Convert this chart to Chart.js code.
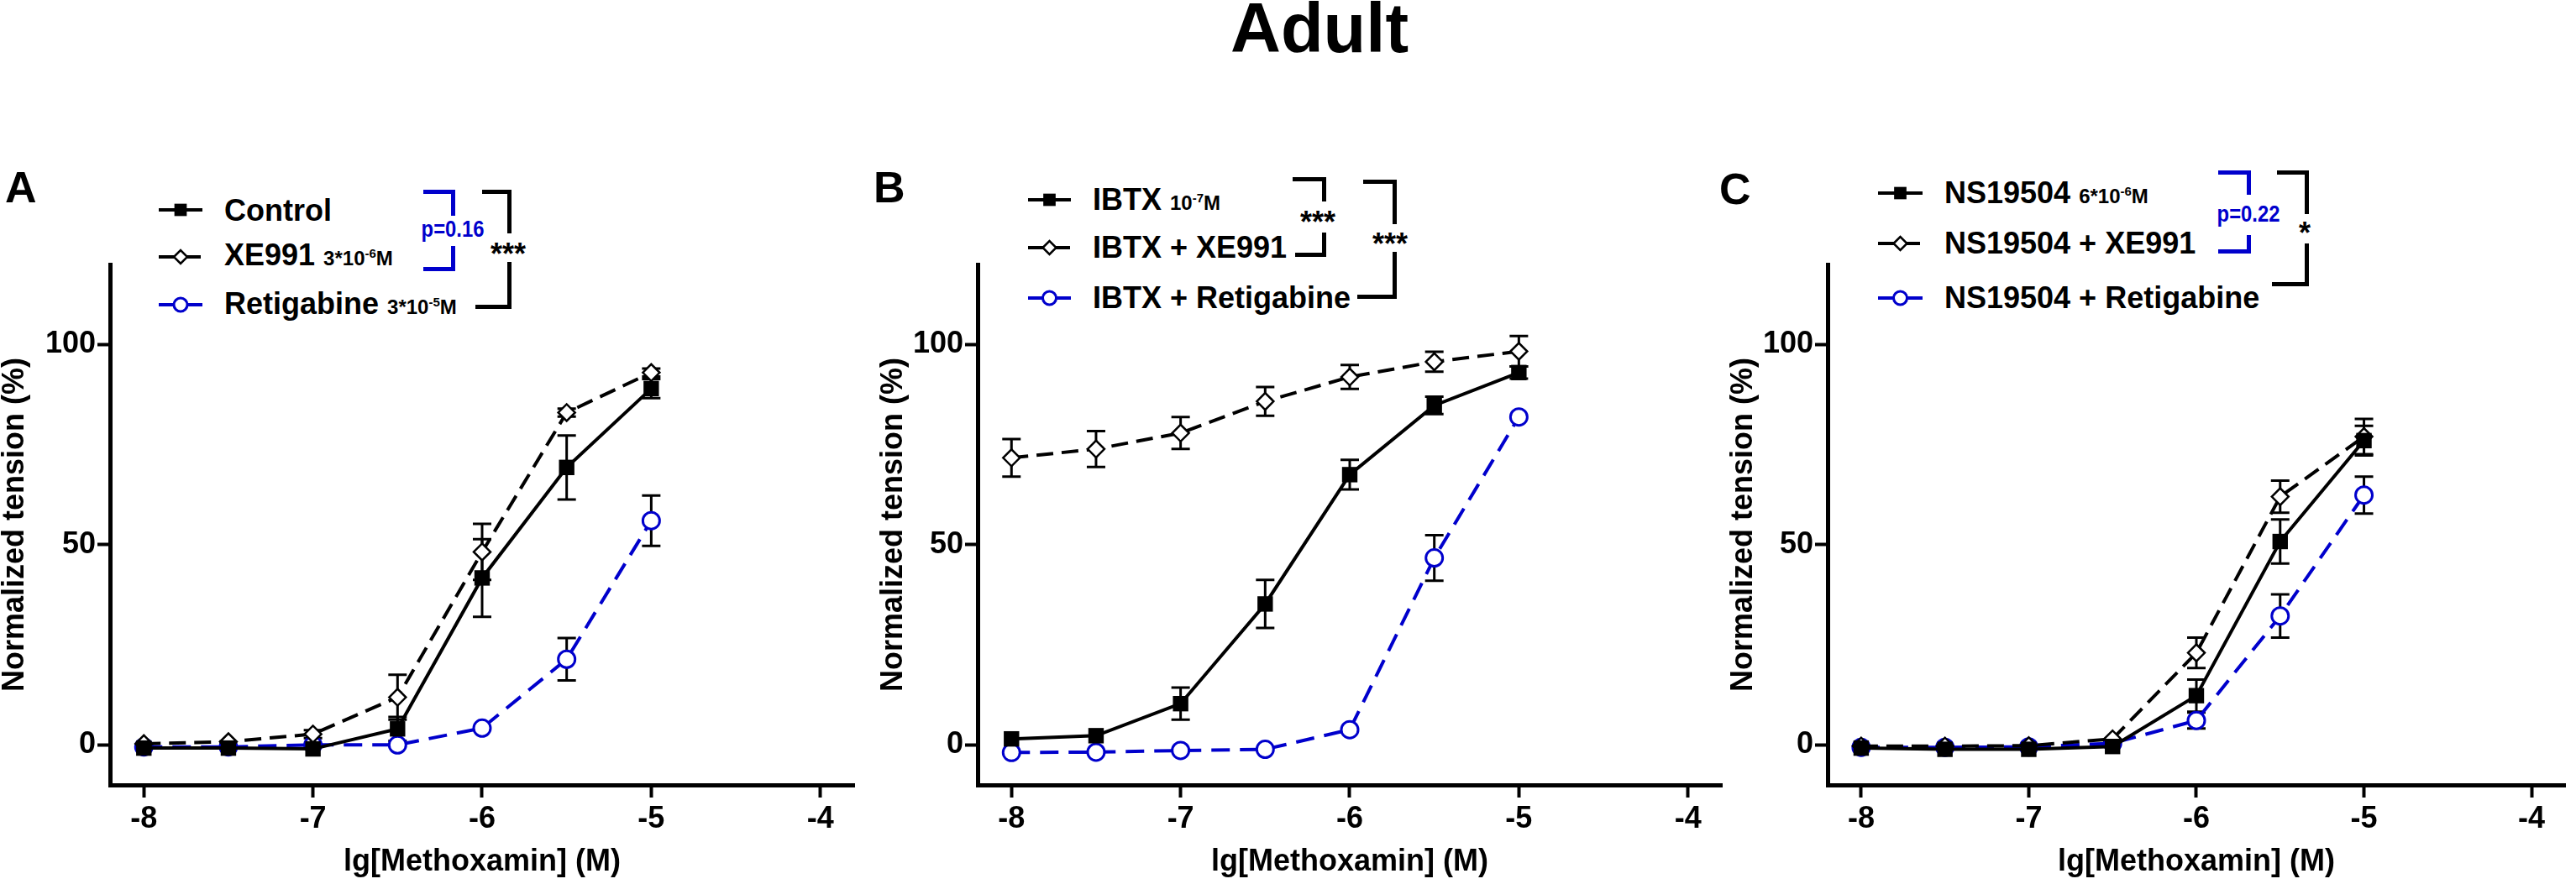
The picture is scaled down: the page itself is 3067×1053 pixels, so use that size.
<!DOCTYPE html>
<html>
<head>
<meta charset="utf-8">
<script src="https://cdn.jsdelivr.net/npm/chart.js@4.4.0/dist/chart.umd.min.js"></script>
<style>
  html, body { margin: 0; padding: 0; background: #fff; overflow: hidden; }
  body { width: 3067px; height: 1053px; position: relative; font-family: "Liberation Sans", Arial, sans-serif; font-weight: bold; color: #000; }
  .panel { position: absolute; top: 0; height: 1053px; }
  .t { position: absolute; white-space: nowrap; line-height: 1; transform: translateY(-50%); }
  .lg { font-size: 36px; }
  .lg small { font-size: 24px; }
  .lg sup { font-size: 15px; vertical-align: 9px; line-height: 0; }
  .pv { font-size: 28px; color: #0000cc; transform: translate(-50%, -50%) scaleX(0.85); }
  .st { font-size: 36px; transform: translateX(-50%); }
  .br { position: absolute; box-sizing: border-box; border: 0 solid #000; }
</style>
</head>
<body>
<div class="t" style="left:1571px;top:33px;font-size:83px;transform:translate(-50%,-50%)">Adult</div>
<div class="t" style="left:6px;top:223px;font-size:52px">A</div>
<div class="t" style="left:1040px;top:223px;font-size:52px">B</div>
<div class="t" style="left:2047px;top:225px;font-size:52px">C</div>

<div class="t lg" style="left:267px;top:251px">Control</div>
<div class="t lg" style="left:267px;top:304px">XE991 <small>3*10<sup>-6</sup>M</small></div>
<div class="t lg" style="left:267px;top:362px">Retigabine <small>3*10<sup>-5</sup>M</small></div>

<div class="t lg" style="left:1301px;top:238px">IBTX <small>10<sup>-7</sup>M</small></div>
<div class="t lg" style="left:1301px;top:295px">IBTX + XE991</div>
<div class="t lg" style="left:1301px;top:355px">IBTX + Retigabine</div>

<div class="t lg" style="left:2315px;top:230px">NS19504 <small>6*10<sup>-6</sup>M</small></div>
<div class="t lg" style="left:2315px;top:290px">NS19504 + XE991</div>
<div class="t lg" style="left:2315px;top:355px">NS19504 + Retigabine</div>

<div class="t pv" style="left:539px;top:273px">p=0.16</div>
<div class="t st" style="left:605px;top:285px">***</div>
<div class="t st" style="left:1569px;top:247px">***</div>
<div class="t st" style="left:1655px;top:273px">***</div>
<div class="t pv" style="left:2677px;top:255px">p=0.22</div>
<div class="t st" style="left:2744px;top:260px">*</div>

<div class="panel" id="pA" style="left:0px;width:1030px"><canvas id="cA"></canvas></div>
<div class="panel" id="pB" style="left:1033px;width:1030px"><canvas id="cB"></canvas></div>
<div class="panel" id="pC" style="left:2045px;width:1022px"><canvas id="cC"></canvas></div>

<script>
// concentrations, lg[M]
const doses = [-8, -7.5, -7, -6.5, -6, -5.5, -5];
const xTicks = [-8, -7, -6, -5, -4];
const yTicks = [0, 50, 100];

// Panel A (mean / SEM, % tension)
const aControl    = [-0.8, -0.8, -1.0, 4.0, 41.7, 69.3, 89.0];
const aControlErr = [0.5, 0.5, 0.5, 3.0, 9.7, 8.0, 2.4];
const aXe991      = [0.3, 0.8, 2.7, 11.9, 48.2, 83.0, 93.0];
const aXe991Err   = [0.5, 0.5, 1.0, 5.6, 7.0, 1.0, 1.0];
const aRetig      = [-0.5, -0.5, 0.0, 0.0, 4.2, 21.4, 56.0];
const aRetigErr   = [0, 0, 0, 0, 0.5, 5.3, 6.3];

// Panel B
const bIbtx       = [1.5, 2.3, 10.3, 35.2, 67.5, 84.8, 93.0];
const bIbtxErr    = [0.5, 0.5, 4.0, 6.0, 3.7, 2.2, 1.5];
const bXe991      = [71.7, 73.9, 77.9, 85.8, 91.9, 95.7, 98.3];
const bXe991Err   = [4.7, 4.5, 4.0, 3.6, 3.0, 2.5, 3.8];
const bRetig      = [-1.9, -1.8, -1.4, -1.1, 3.8, 46.7, 81.9];
const bRetigErr   = [0, 0, 0, 0, 0, 5.7, 0.8];

// Panel C
const cNs         = [-0.8, -1.1, -1.1, -0.4, 12.3, 50.8, 76.0];
const cNsErr      = [0.5, 0.5, 0.5, 0.5, 4.0, 5.5, 3.7];
const cXe991      = [-0.3, -0.3, -0.2, 1.5, 23.0, 62.0, 77.0];
const cXe991Err   = [0.5, 0.5, 0.5, 0.5, 3.8, 4.0, 4.4];
const cRetig      = [-0.6, -0.6, -0.5, 0.4, 6.1, 32.2, 62.4];
const cRetigErr   = [0.5, 0.5, 0.5, 0.5, 2.0, 5.4, 4.6];

const FONT = '"Liberation Sans", Arial, sans-serif';
const BLUE = '#0000cc';

// brackets: [x1 top, x2, yTop, yBreak1, x1 bottom, yBreak2, yBottom, colour]
const brackets = [
  [504, 539, 228, 257, 504, 293, 320, BLUE],
  [574, 606, 228, 278, 566, 312, 365, '#000'],
  [1539, 1576, 213, 240, 1542, 277, 303, '#000'],
  [1623, 1660, 216, 267, 1616, 300, 353, '#000'],
  [2641, 2677, 205, 232, 2641, 280, 299, BLUE],
  [2711, 2746, 205, 255, 2705, 290, 338, '#000']
];
brackets.forEach(b => {
  const [x1, x2, yt, y1, x1b, y2, yb, col] = b;
  const up = document.createElement('div');
  up.className = 'br';
  up.style.cssText = `left:${x1}px;top:${yt - 2.5}px;width:${x2 - x1 + 2.5}px;height:${y1 - yt + 2.5}px;border-top-width:5px;border-right-width:5px;border-color:${col}`;
  const lo = document.createElement('div');
  lo.className = 'br';
  lo.style.cssText = `left:${x1b}px;top:${y2}px;width:${x2 - x1b + 2.5}px;height:${yb - y2 + 2.5}px;border-bottom-width:5px;border-right-width:5px;border-color:${col}`;
  document.body.appendChild(up);
  document.body.appendChild(lo);
});

function pts(ys) { return doses.map((d, i) => ({ x: d, y: ys[i] })); }

function series(label, ys, err, kind) {
  const base = { label: label, data: pts(ys), err: err, showLine: true, tension: 0, borderWidth: 4 };
  if (kind === 'square') {
    return Object.assign(base, { borderColor: '#000', backgroundColor: '#000', pointStyle: 'rect',
      pointRadius: 13, pointBorderWidth: 0, pointBackgroundColor: '#000' });
  }
  if (kind === 'diamond') {
    return Object.assign(base, { borderColor: '#000', borderDash: [20, 10], pointStyle: 'rectRot',
      pointRadius: 10, pointBorderWidth: 2.5, pointBorderColor: '#000', pointBackgroundColor: '#fff' });
  }
  return Object.assign(base, { borderColor: BLUE, borderDash: [22, 12], pointStyle: 'circle',
    pointRadius: 10, pointBorderWidth: 3, pointBorderColor: BLUE, pointBackgroundColor: '#fff' });
}

const errorBars = {
  id: 'errorBars',
  beforeDatasetsDraw(chart) {
    const { ctx, scales: { x, y } } = chart;
    ctx.save();
    ctx.strokeStyle = '#000';
    ctx.lineWidth = 3;
    ctx.setLineDash([]);
    chart.data.datasets.forEach(ds => {
      ds.data.forEach((p, j) => {
        const e = ds.err[j];
        if (!e || e < 1) return;
        const px = x.getPixelForValue(p.x);
        const top = y.getPixelForValue(p.y + e);
        const bot = y.getPixelForValue(p.y - e);
        ctx.beginPath();
        ctx.moveTo(px, top); ctx.lineTo(px, bot);
        ctx.moveTo(px - 11, top); ctx.lineTo(px + 11, top);
        ctx.moveTo(px - 11, bot); ctx.lineTo(px + 11, bot);
        ctx.stroke();
      });
    });
    ctx.restore();
  }
};

// legend symbols drawn with the datasets' own styles
const legendSymbols = {
  id: 'legendSymbols',
  afterDraw(chart, args, opts) {
    const ctx = chart.ctx;
    chart.data.datasets.forEach((ds, i) => {
      const yy = opts.rows[i];
      ctx.save();
      ctx.strokeStyle = ds.borderColor;
      ctx.lineWidth = ds.borderWidth;
      ctx.setLineDash(ds.borderDash || []);
      ctx.beginPath();
      ctx.moveTo(opts.x1, yy);
      ctx.lineTo(opts.x2, yy);
      ctx.stroke();
      ctx.setLineDash([]);
      ctx.fillStyle = ds.pointBackgroundColor;
      ctx.strokeStyle = ds.pointBorderColor || ds.borderColor;
      ctx.lineWidth = ds.pointBorderWidth;
      Chart.helpers.drawPoint(ctx, { pointStyle: ds.pointStyle, radius: ds.pointRadius * 0.8,
        rotation: 0, borderWidth: ds.pointBorderWidth }, (opts.x1 + opts.x2) / 2, yy);
      ctx.restore();
    });
  }
};

function makeChart(id, datasets, legend, titlePad, padRight) {
  return new Chart(document.getElementById(id), {
    type: 'scatter',
    data: { datasets: datasets },
    plugins: [errorBars, legendSymbols],
    options: {
      responsive: true,
      maintainAspectRatio: false,
      animation: false,
      layout: { padding: { top: 315, left: 0, right: padRight, bottom: 0 } },
      plugins: { legend: { display: false }, tooltip: { enabled: false }, legendSymbols: legend },
      scales: {
        x: {
          type: 'linear', min: -8.2, max: -3.8,
          afterBuildTicks: s => { s.ticks = xTicks.map(v => ({ value: v })); },
          afterFit: s => { s.height = 118; },
          grid: { drawOnChartArea: false, drawTicks: true, tickLength: 15, tickWidth: 4, tickColor: '#000' },
          border: { display: true, color: '#000', width: 5 },
          ticks: { color: '#000', padding: 4, font: { family: FONT, size: 36, weight: 'bold' } },
          title: { display: true, text: 'lg[Methoxamin] (M)', color: '#000', padding: { top: 0, bottom: 8 },
            font: { family: FONT, size: 36, weight: 'bold', lineHeight: 1 } }
        },
        y: {
          type: 'linear', min: -10, max: 120,
          afterBuildTicks: s => { s.ticks = yTicks.map(v => ({ value: v })); },
          afterFit: s => { s.width = 131; },
          grid: { drawOnChartArea: false, drawTicks: true, tickLength: 15, tickWidth: 4, tickColor: '#000' },
          border: { display: true, color: '#000', width: 5 },
          ticks: { color: '#000', padding: 2, font: { family: FONT, size: 36, weight: 'bold' } },
          title: { display: true, text: 'Normalized tension (%)', color: '#000', padding: { top: titlePad, bottom: 0 },
            font: { family: FONT, size: 36, weight: 'bold', lineHeight: 1 } }
        }
      }
    }
  });
}

makeChart('cA', [
  series('Control', aControl, aControlErr, 'square'),
  series('XE991 3*10-6M', aXe991, aXe991Err, 'diamond'),
  series('Retigabine 3*10-5M', aRetig, aRetigErr, 'circle')
], { x1: 189, x2: 241, rows: [250, 306, 363] }, 0, 13);

makeChart('cB', [
  series('IBTX 10-7M', bIbtx, bIbtxErr, 'square'),
  series('IBTX + XE991', bXe991, bXe991Err, 'diamond'),
  series('IBTX + Retigabine', bRetig, bRetigErr, 'circle')
], { x1: 1224 - 1033, x2: 1275 - 1033, rows: [238, 295, 355] }, 13, 13);

makeChart('cC', [
  series('NS19504 6*10-6M', cNs, cNsErr, 'square'),
  series('NS19504 + XE991', cXe991, cXe991Err, 'diamond'),
  series('NS19504 + Retigabine', cRetig, cRetigErr, 'circle')
], { x1: 2236 - 2045, x2: 2289 - 2045, rows: [230, 290, 355] }, 13, 5);
</script>
</body>
</html>
